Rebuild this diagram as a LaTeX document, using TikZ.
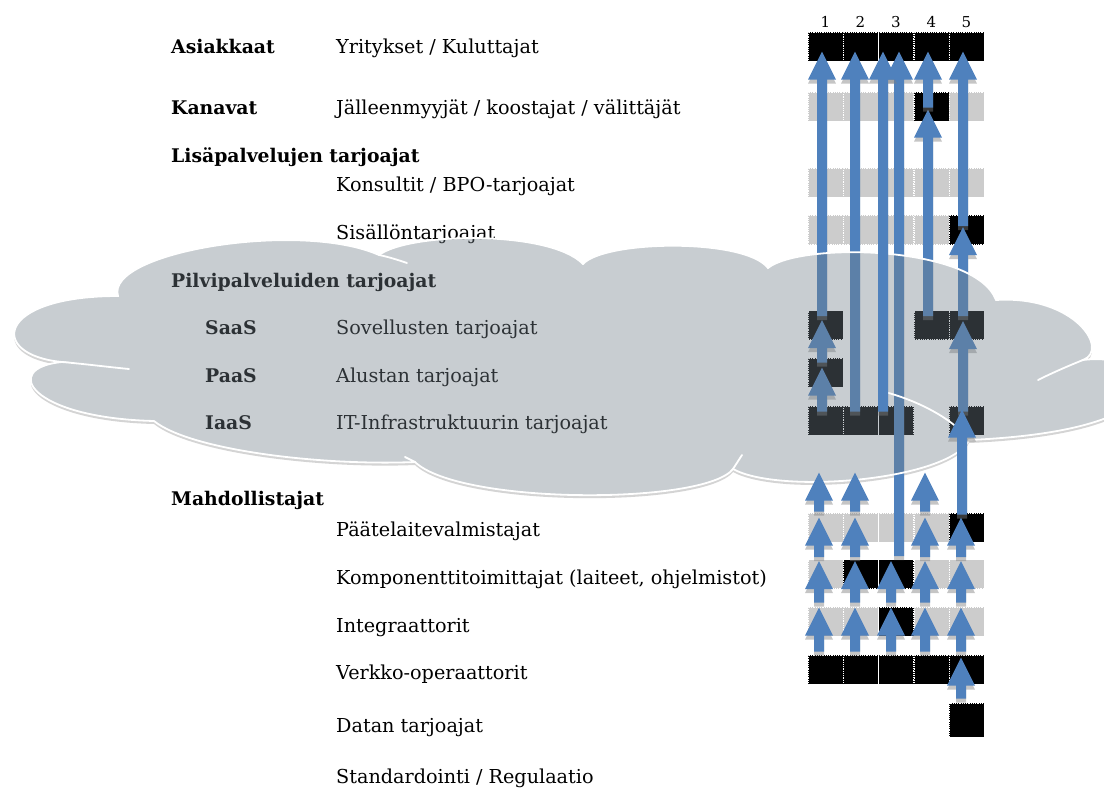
\documentclass[tikz,border=0pt]{standalone}
\usepackage{fontspec}
\setmainfont{DejaVu Serif}
\usetikzlibrary{calc}
\definecolor{arrowblue}{RGB}{79,129,189}
\definecolor{cloudc}{RGB}{114,127,137}
\definecolor{cellgray}{RGB}{204,204,204}
\definecolor{cloudshadow}{RGB}{212,212,212}
\begin{document}
\begin{tikzpicture}[x=1pt,y=-1pt,
  lbl/.style={anchor=base west, inner sep=0pt, font=\fontsize{19.2}{21}\selectfont},
  blbl/.style={anchor=base west, inner sep=0pt, font=\fontsize{18.8}{21}\selectfont\bfseries},
  num/.style={anchor=base, inner sep=0pt, font=\fontsize{15}{17}\selectfont},
  cell/.style={minimum width=35pt, minimum height=29pt, inner sep=0pt, draw=white, densely dotted, line width=0.8pt},
  bk/.style={cell, fill=black},
  gy/.style={cell, fill=cellgray},
  barrow/.style={fill=arrowblue,
    preaction={fill=gray, fill opacity=0.45, transform canvas={yshift=-4pt}},
    to path={let \p1=(\tikztostart), \p2=(\tikztotarget) in
      (\x1-5pt,\y1) -- (\x1-5pt,\y2-28pt) -- (\x1-14pt,\y2-28pt) -- (\x1,\y2)
      -- (\x1+14pt,\y2-28pt) -- (\x1+5pt,\y2-28pt) -- (\x1+5pt,\y1) -- cycle}},
  cloudline/.style={draw=white, line width=1.8pt, line cap=round}
]
\fill[white] (0,0) rectangle (1104,789);
\useasboundingbox (0,0) rectangle (1104,789);

\def\cloudpath{(62,362) .. controls (-12,355) and (-5,296) .. (118,296)
 .. controls (105,252) and (300,220) .. (379,255)
 .. controls (410,232) and (550,230) .. (583,264)
 .. controls (605,240) and (745,238) .. (768,268)
 .. controls (800,242) and (975,245) .. (996,300)
 .. controls (1075,295) and (1110,350) .. (1083,360)
 .. controls (1160,350) and (1200,430) .. (969,440)
 .. controls (950,480) and (780,495) .. (733,469)
 .. controls (705,505) and (460,505) .. (415,462)
 .. controls (320,466) and (190,450) .. (154,421)
 .. controls (30,418) and (0,368) .. (62,362) -- cycle}

% cloud shadow and white base
\fill[cloudshadow, yshift=-3pt] \cloudpath;
\fill[white] \cloudpath;

% column numbers
\foreach \c/\x in {1/825.5,2/860.5,3/896,4/931.5,5/966.5}
  \node[num] (n\c) at (\x,28) {\c};

% labels
\node[blbl] (t1) at (171,54) {Asiakkaat};
\node[lbl] (t2) at (336,54) {Yritykset / Kuluttajat};
\node[blbl] (t3) at (171,115) {Kanavat};
\node[lbl] (t4) at (336,115) {Jälleenmyyjät / koostajat / välittäjät};
\node[blbl] (t5) at (171,163) {Lisäpalvelujen tarjoajat};
\node[lbl] (t6) at (336,192) {Konsultit / BPO-tarjoajat};
\node[lbl] (t7) at (336,240) {Sisällöntarjoajat};
\node[blbl] (t8) at (171,287) {Pilvipalveluiden tarjoajat};
\node[blbl] (t9) at (205,334) {SaaS};
\node[lbl] (t10) at (336,334) {Sovellusten tarjoajat};
\node[blbl] (t11) at (205,382) {PaaS};
\node[lbl] (t12) at (336,382) {Alustan tarjoajat};
\node[blbl] (t13) at (205,429) {IaaS};
\node[lbl] (t14) at (336,429) {IT-Infrastruktuurin tarjoajat};
\node[blbl] (t15) at (171,505) {Mahdollistajat};
\node[lbl] (t16) at (336,536) {Päätelaitevalmistajat};
\node[lbl] (t17) at (336,584) {Komponenttitoimittajat (laiteet, ohjelmistot)};
\node[lbl] (t18) at (336,632) {Integraattorit};
\node[lbl] (t19) at (336,679) {Verkko-operaattorit};
\node[lbl] (t20) at (336,732) {Datan tarjoajat};
\node[lbl] (t21) at (336,783) {Standardointi / Regulaatio};

% cells
\foreach \c/\x/\s in {1/825.5/bk,2/860.5/bk,3/896/bk,4/931.5/bk,5/966.5/bk}
  \node[\s] (A\c) at (\x,46.5) {};
\foreach \c/\x/\s in {1/825.5/gy,2/860.5/gy,3/896/gy,4/931.5/bk,5/966.5/gy}
  \node[\s] (K\c) at (\x,106.5) {};
\foreach \c/\x/\s in {1/825.5/gy,2/860.5/gy,3/896/gy,4/931.5/gy,5/966.5/gy}
  \node[\s] (L\c) at (\x,182.5) {};
\foreach \c/\x/\s in {1/825.5/gy,2/860.5/gy,3/896/gy,4/931.5/gy,5/966.5/bk}
  \node[\s] (S\c) at (\x,230) {};
\foreach \c/\x in {1/825.5,4/931.5,5/966.5}
  \node[bk] (SA\c) at (\x,325) {};
\node[bk] (PA1) at (825.5,372.5) {};
\foreach \c/\x in {1/825.5,2/860.5,3/896,5/966.5}
  \node[bk] (IA\c) at (\x,420.5) {};
\foreach \c/\x/\s in {1/825.5/gy,2/860.5/gy,3/896/gy,4/931.5/gy,5/966.5/bk}
  \node[\s] (PT\c) at (\x,527.5) {};
\foreach \c/\x/\s in {1/825.5/gy,2/860.5/bk,3/896/bk,4/931.5/gy,5/966.5/gy}
  \node[\s] (KO\c) at (\x,574) {};
\foreach \c/\x/\s in {1/825.5/gy,2/860.5/gy,3/896/bk,4/931.5/gy,5/966.5/gy}
  \node[\s] (IN\c) at (\x,621.5) {};
\foreach \c/\x/\s in {1/825.5/bk,2/860.5/bk,3/896/bk,4/931.5/bk,5/966.5/bk}
  \node[\s] (VE\c) at (\x,669.5) {};
\node[bk, minimum height=34pt] (DA5) at (966.5,720) {};

% arrows lying under the cloud
\path[barrow] ([xshift=-3.5pt,yshift=-6pt]SA1.north) to ([xshift=-3.5pt,yshift=-20pt]A1.north);
\path[barrow] ([xshift=-5.5pt,yshift=-6pt]IA2.north) to ([xshift=-5.5pt,yshift=-20pt]A2.north);
\path[barrow] ([xshift=3pt,yshift=3pt]KO3.north) to ([xshift=3pt,yshift=-20pt]A3.north);
\path[barrow] ([xshift=-3.5pt,yshift=-6pt]SA4.north) to ([xshift=-3.5pt,yshift=-18pt]K4.north);
\path[barrow] ([xshift=-3.5pt,yshift=-16pt]K4.north) to ([xshift=-3.5pt,yshift=-20pt]A4.north);
\path[barrow] ([xshift=-3.5pt,yshift=-11pt]S5.north) to ([xshift=-3.5pt,yshift=-20pt]A5.north);
\path[barrow] ([xshift=-3.5pt,yshift=-6pt]SA5.north) to ([xshift=-3.5pt,yshift=-12pt]S5.north);
\path[barrow] ([xshift=-3.5pt,yshift=-5pt]PA1.north) to ([xshift=-3.5pt,yshift=-10pt]SA1.north);
\path[barrow] ([xshift=-3.5pt,yshift=-6pt]IA1.north) to ([xshift=-3.5pt,yshift=-10pt]PA1.north);
\path[barrow] ([xshift=-3.5pt,yshift=-6pt]IA5.north) to ([xshift=-3.5pt,yshift=-11pt]SA5.north);

% cloud overlay
\fill[cloudc, fill opacity=0.39] \cloudpath;
\draw[cloudline] \cloudpath;
\draw[cloudline] (62,362) .. controls (85,364) and (108,367) .. (129,369);
\draw[cloudline] (379,255) .. controls (389,257) and (398,260) .. (407,263);
\draw[cloudline] (1083,360) .. controls (1068,366) and (1052,373) .. (1038,380);
\draw[cloudline] (885,392) .. controls (915,400) and (945,415) .. (962,432);
\draw[cloudline] (733,469) -- (742,455);
\draw[cloudline] (415,462) -- (405,457);

% arrows on top of the cloud
\path[barrow] ([xshift=-13pt,yshift=-6pt]IA3.north) to ([xshift=-13pt,yshift=-20pt]A3.north);
\path[barrow] ([xshift=-4.5pt,yshift=-2pt]PT5.north) to ([xshift=-4.5pt,yshift=-4pt]IA5.north);

\foreach \c/\d in {1/-6.5,2/-5.5,4/-6.5}
  \path[barrow] ([xshift=\d pt,yshift=1pt]PT\c.north) to ([xshift=\d pt,yshift=40pt]PT\c.north);
\foreach \c/\d in {1/-6.5,2/-5.5,4/-6.5,5/-5.5}
  \path[barrow] ([xshift=\d pt,yshift=2pt]KO\c.north) to ([xshift=\d pt,yshift=-5pt]PT\c.north);
\foreach \c/\d in {1/-6.5,2/-5.5,3/-5,4/-6.5,5/-5.5}
  \path[barrow] ([xshift=\d pt,yshift=4pt]IN\c.north) to ([xshift=\d pt,yshift=-2pt]KO\c.north);
\foreach \c/\d in {1/-6.5,2/-5.5,3/-5,4/-6.5,5/-5.5}
  \path[barrow] ([xshift=\d pt,yshift=3pt]VE\c.north) to ([xshift=\d pt,yshift=-1pt]IN\c.north);
\path[barrow] ([xshift=-5.5pt,yshift=4pt]DA5.north) to ([xshift=-5.5pt,yshift=-3pt]VE5.north);
\end{tikzpicture}
\end{document}
